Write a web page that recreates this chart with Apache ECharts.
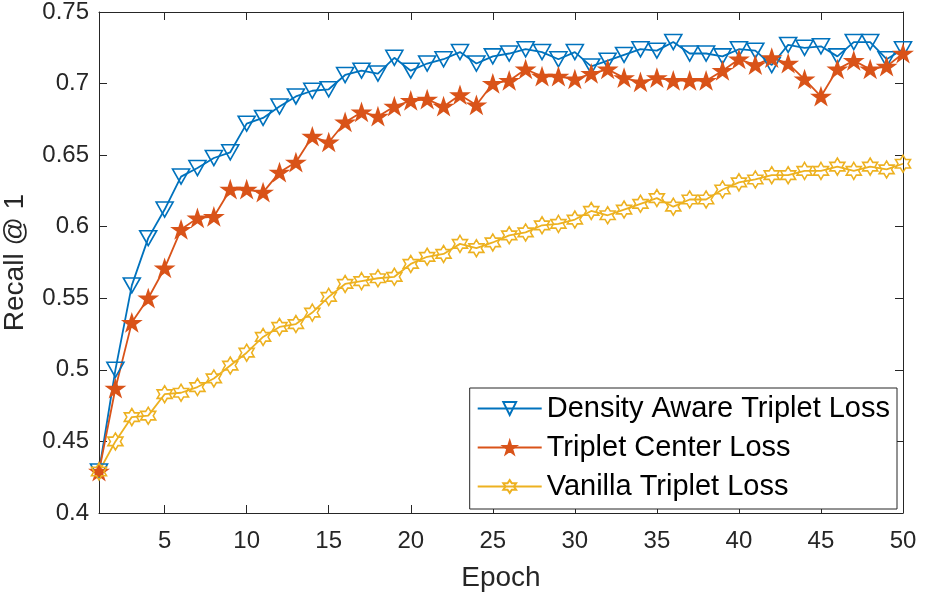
<!DOCTYPE html>
<html>
<head>
<meta charset="utf-8">
<script src="https://cdn.jsdelivr.net/npm/echarts@6/dist/echarts.min.js"></script>
<style>
html, body { margin: 0; padding: 0; background: #fff; }
#chart { width: 934px; height: 596px; }
</style>
</head>
<body>
<div id="chart"></div>
<script>
// epochs on the x axis
const epochs = [1, 2, 3, 4, 5, 6, 7, 8, 9, 10,
  11, 12, 13, 14, 15, 16, 17, 18, 19, 20,
  21, 22, 23, 24, 25, 26, 27, 28, 29, 30,
  31, 32, 33, 34, 35, 36, 37, 38, 39, 40,
  41, 42, 43, 44, 45, 46, 47, 48, 49, 50]
const xTicks = [5, 10, 15, 20, 25, 30, 35, 40, 45, 50]

const seriesNames = ['Density Aware Triplet Loss', 'Triplet Center Loss', 'Vanilla Triplet Loss']

// Recall@1 per epoch
const densityAware = [0.429, 0.500, 0.559, 0.592, 0.612, 0.635, 0.641, 0.648, 0.652, 0.672,
  0.676, 0.684, 0.691, 0.695, 0.696, 0.706, 0.709, 0.707, 0.718, 0.709,
  0.714, 0.717, 0.722, 0.714, 0.719, 0.721, 0.724, 0.722, 0.717, 0.722,
  0.712, 0.716, 0.720, 0.724, 0.723, 0.729, 0.721, 0.721, 0.719, 0.724,
  0.723, 0.713, 0.727, 0.725, 0.726, 0.719, 0.729, 0.729, 0.717, 0.724]
const tripletCenter = [0.429, 0.487, 0.533, 0.550, 0.571, 0.598, 0.606, 0.607, 0.626, 0.626,
  0.624, 0.638, 0.645, 0.663, 0.659, 0.673, 0.680, 0.677, 0.684, 0.688,
  0.689, 0.684, 0.692, 0.685, 0.700, 0.702, 0.710, 0.705, 0.705, 0.703,
  0.707, 0.710, 0.704, 0.701, 0.704, 0.702, 0.702, 0.702, 0.709, 0.717,
  0.713, 0.718, 0.714, 0.703, 0.691, 0.710, 0.716, 0.710, 0.712, 0.721]
const vanilla = [0.429, 0.450, 0.467, 0.468, 0.483, 0.484, 0.488, 0.494, 0.503, 0.512,
  0.523, 0.530, 0.532, 0.540, 0.551, 0.560, 0.562, 0.564, 0.565, 0.574,
  0.579, 0.581, 0.588, 0.585, 0.589, 0.594, 0.596, 0.601, 0.602, 0.605,
  0.611, 0.608, 0.612, 0.616, 0.620, 0.614, 0.619, 0.619, 0.626, 0.631,
  0.633, 0.636, 0.636, 0.639, 0.639, 0.642, 0.639, 0.642, 0.640, 0.644]

const colors = ['#0072BD', '#D95319', '#EDB120']
const axisColor = '#262626'
const fontFamily = '"Liberation Sans", Arial, Helvetica, sans-serif'

// marker shapes
const triangleDown = 'path://M0,0 L200,0 L100,173.2 Z'
const pentagram = 'path://M100,0 L122.45,69.1 L195.1,69.1 L136.33,111.8 L158.78,180.9 L100,138.2 L41.22,180.9 L63.67,111.8 L4.9,69.1 L77.55,69.1 Z'
const hexagram = 'path://M100,0 L128.87,50 L186.6,50 L157.7,100 L186.6,150 L128.87,150 L100,200 L71.13,150 L13.4,150 L42.3,100 L13.4,50 L71.13,50 Z'

function pairs(values) {
  return epochs.map((e, i) => [e, values[i]])
}

function makeSeries(name, values, color, symbol, size, fill) {
  return {
    name: name,
    type: 'line',
    data: pairs(values),
    symbol: symbol,
    symbolSize: size,
    showAllSymbol: true,
    lineStyle: { color: color, width: 1.8 },
    itemStyle: { color: fill, borderColor: color, borderWidth: 1.6 },
    emphasis: { disabled: true }
  }
}

const chart = echarts.init(document.getElementById('chart'))

const xBase = {
  type: 'value',
  min: 1,
  max: 50,
  axisLine: { show: true, onZero: false, lineStyle: { color: axisColor, width: 1 } },
  axisTick: { show: true, inside: true, length: 8, customValues: xTicks, lineStyle: { color: axisColor } },
  splitLine: { show: false }
}
const yBase = {
  type: 'value',
  min: 0.4,
  max: 0.75,
  interval: 0.05,
  axisLine: { show: true, onZero: false, lineStyle: { color: axisColor, width: 1 } },
  axisTick: { show: true, inside: true, length: 8, lineStyle: { color: axisColor } },
  splitLine: { show: false }
}

const option = {
  animation: false,
  backgroundColor: '#fff',
  grid: { left: 99, right: 31, top: 12, bottom: 83, outerBoundsMode: 'none' },
  xAxis: [
    Object.assign({}, xBase, {
      position: 'bottom',
      name: 'Epoch',
      nameLocation: 'middle',
      nameGap: 51,
      nameTextStyle: { fontSize: 28, color: axisColor, fontFamily: fontFamily },
      axisLabel: { customValues: xTicks, fontSize: 24, color: axisColor, margin: 16, fontFamily: fontFamily }
    }),
    Object.assign({}, xBase, {
      position: 'top',
      axisLabel: { show: false }
    })
  ],
  yAxis: [
    Object.assign({}, yBase, {
      position: 'left',
      name: 'Recall @ 1',
      nameLocation: 'middle',
      nameGap: 70,
      nameTextStyle: { fontSize: 28, color: axisColor, fontFamily: fontFamily },
      axisLabel: { fontSize: 24, color: axisColor, margin: 10, fontFamily: fontFamily }
    }),
    Object.assign({}, yBase, {
      position: 'right',
      axisLabel: { show: false }
    })
  ],
  legend: {
    orient: 'vertical',
    right: 37,
    bottom: 87,
    data: seriesNames,
    itemWidth: 64,
    itemHeight: 16,
    itemGap: 10,
    padding: [6, 7, 8, 7],
    backgroundColor: '#fff',
    borderColor: axisColor,
    borderWidth: 1,
    borderRadius: 0,
    textStyle: { fontSize: 29, lineHeight: 28, color: '#000', fontFamily: fontFamily },
    selectedMode: false
  },
  series: [
    makeSeries(seriesNames[0], densityAware, colors[0], triangleDown, [17, 15], 'rgba(255,255,255,0)'),
    makeSeries(seriesNames[1], tripletCenter, colors[1], pentagram, [17, 16], colors[1]),
    makeSeries(seriesNames[2], vanilla, colors[2], hexagram, [15, 17], 'rgba(255,255,255,0)')
  ]
}

chart.setOption(option)
</script>
</body>
</html>
